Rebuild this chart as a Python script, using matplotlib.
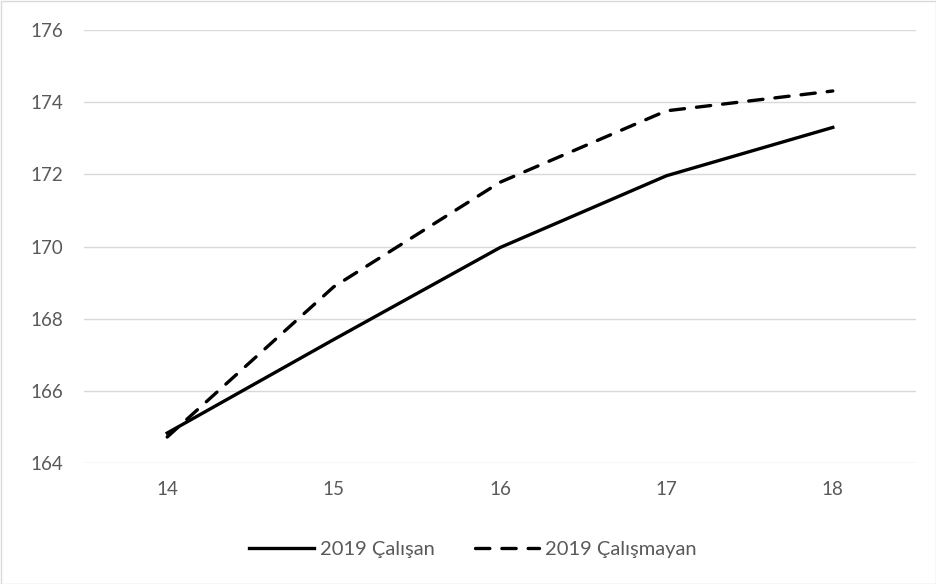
import matplotlib
matplotlib.use("Agg")
import matplotlib.pyplot as plt
from matplotlib.patches import Rectangle

categories = ["14", "15", "16", "17", "18"]
calisan = [164.83, 167.42, 169.97, 171.96, 173.30]
calismayan = [164.72, 168.88, 171.78, 173.76, 174.31]
yticks = [164, 166, 168, 170, 172, 174, 176]

plt.rcParams['font.family'] = ['Lato', 'DejaVu Sans']

fig = plt.figure(figsize=(9.36, 5.84), dpi=100)
ax = fig.add_axes([84/936, 1-463/584, (916-84)/936, (463-30)/584])

x = list(range(len(categories)))
ax.plot(x, calisan, color='black', lw=2.4, label='2019 Çalışan')
ax.plot(x, calismayan, color='black', lw=2.4, dashes=(4.3, 3.6), dash_capstyle='round',
        label='2019 Çalışmayan')

ax.set_xlim(-0.5, len(categories) - 0.5)
ax.set_ylim(164, 176)
ax.set_yticks(yticks)
ax.set_yticklabels([str(v) for v in yticks])
ax.set_xticks(x)
ax.set_xticklabels(categories)
ax.grid(axis='y', color='#d9d9d9', lw=1)
ax.set_axisbelow(True)
for s in ax.spines.values():
    s.set_visible(False)
ax.tick_params(axis='both', length=0, labelsize=13.5, colors='#595959')
ax.tick_params(axis='y', pad=15)
ax.tick_params(axis='x', pad=13)

leg = fig.legend(loc='center', bbox_to_anchor=(473/936, 1-549/584), ncol=2, frameon=False,
                 fontsize=14.5, handlelength=3.2, columnspacing=2.0, handletextpad=0.3)
for t in leg.get_texts():
    t.set_color('#595959')

fig.patches.append(Rectangle((0.5/936, 0.5/584), 1-1/936, 1-1/584, transform=fig.transFigure,
                             fill=False, edgecolor='#d9d9d9', lw=1))

fig.savefig('out.png', dpi=100)
